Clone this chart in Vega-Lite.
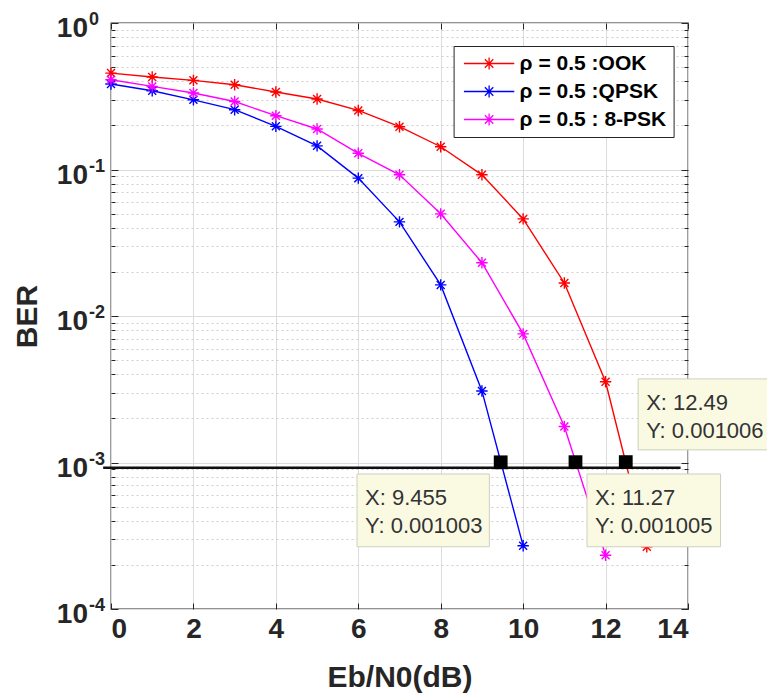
{
  "$schema": "https://vega.github.io/schema/vega-lite/v6.json",
  "width": 577,
  "height": 586,
  "autosize": {"type": "none"},
  "padding": {"left": 111, "top": 23, "right": 79, "bottom": 87},
  "background": "white",
  "config": {
    "view": {"stroke": "#262626", "strokeWidth": 1.3},
    "font": "Liberation Sans",
    "axis": {
      "domain": false,
      "tickColor": "#262626",
      "tickWidth": 1,
      "labelFont": "Liberation Sans",
      "labelFontWeight": "bold",
      "labelColor": "#262626",
      "titleFont": "Liberation Sans",
      "titleFontWeight": "bold",
      "titleColor": "#262626"
    }
  },
  "datasets": {
    "ber": [
      {"s": "ρ = 0.5 :OOK", "x": 0, "ber": 0.455},
      {"s": "ρ = 0.5 :OOK", "x": 1, "ber": 0.428},
      {"s": "ρ = 0.5 :OOK", "x": 2, "ber": 0.406},
      {"s": "ρ = 0.5 :OOK", "x": 3, "ber": 0.379},
      {"s": "ρ = 0.5 :OOK", "x": 4, "ber": 0.338},
      {"s": "ρ = 0.5 :OOK", "x": 5, "ber": 0.303},
      {"s": "ρ = 0.5 :OOK", "x": 6, "ber": 0.253},
      {"s": "ρ = 0.5 :OOK", "x": 7, "ber": 0.196},
      {"s": "ρ = 0.5 :OOK", "x": 8, "ber": 0.143},
      {"s": "ρ = 0.5 :OOK", "x": 9, "ber": 0.092},
      {"s": "ρ = 0.5 :OOK", "x": 10, "ber": 0.046},
      {"s": "ρ = 0.5 :OOK", "x": 11, "ber": 0.0168},
      {"s": "ρ = 0.5 :OOK", "x": 12, "ber": 0.00356},
      {"s": "ρ = 0.5 :OOK", "x": 13, "ber": 0.000266},
      {"s": "ρ = 0.5 :QPSK", "x": 0, "ber": 0.383},
      {"s": "ρ = 0.5 :QPSK", "x": 1, "ber": 0.345},
      {"s": "ρ = 0.5 :QPSK", "x": 2, "ber": 0.299},
      {"s": "ρ = 0.5 :QPSK", "x": 3, "ber": 0.256},
      {"s": "ρ = 0.5 :QPSK", "x": 4, "ber": 0.197},
      {"s": "ρ = 0.5 :QPSK", "x": 5, "ber": 0.145},
      {"s": "ρ = 0.5 :QPSK", "x": 6, "ber": 0.0873},
      {"s": "ρ = 0.5 :QPSK", "x": 7, "ber": 0.0439},
      {"s": "ρ = 0.5 :QPSK", "x": 8, "ber": 0.0163},
      {"s": "ρ = 0.5 :QPSK", "x": 9, "ber": 0.00308},
      {"s": "ρ = 0.5 :QPSK", "x": 10, "ber": 0.00027},
      {"s": "ρ = 0.5 : 8-PSK", "x": 0, "ber": 0.41},
      {"s": "ρ = 0.5 : 8-PSK", "x": 1, "ber": 0.369},
      {"s": "ρ = 0.5 : 8-PSK", "x": 2, "ber": 0.333},
      {"s": "ρ = 0.5 : 8-PSK", "x": 3, "ber": 0.291},
      {"s": "ρ = 0.5 : 8-PSK", "x": 4, "ber": 0.233},
      {"s": "ρ = 0.5 : 8-PSK", "x": 5, "ber": 0.189},
      {"s": "ρ = 0.5 : 8-PSK", "x": 6, "ber": 0.129},
      {"s": "ρ = 0.5 : 8-PSK", "x": 7, "ber": 0.092},
      {"s": "ρ = 0.5 : 8-PSK", "x": 8, "ber": 0.0498},
      {"s": "ρ = 0.5 : 8-PSK", "x": 9, "ber": 0.0231},
      {"s": "ρ = 0.5 : 8-PSK", "x": 10, "ber": 0.00755},
      {"s": "ρ = 0.5 : 8-PSK", "x": 11, "ber": 0.00176},
      {"s": "ρ = 0.5 : 8-PSK", "x": 12, "ber": 0.000233}
    ],
    "threshold": [
      {"x": -0.19, "ber": 0.00092},
      {"x": 13.82, "ber": 0.00092}
    ],
    "tips": [
      {"bx": 9.455, "by": 0.001003, "x1": 5.97, "x2": 9.18, "y1": 0.000835, "y2": 0.000266},
      {"bx": 11.27, "by": 0.001005, "x1": 11.55, "x2": 14.79, "y1": 0.000835, "y2": 0.000266},
      {"bx": 12.49, "by": 0.001006, "x1": 12.79, "x2": 16.3, "y1": 0.00372, "y2": 0.00122}
    ],
    "decades": [
      {"v": 1, "e": "0"},
      {"v": 0.1, "e": "-1"},
      {"v": 0.01, "e": "-2"},
      {"v": 0.001, "e": "-3"},
      {"v": 0.0001, "e": "-4"}
    ]
  },
  "layer": [
    {
      "data": {"name": "ber"},
      "mark": {"type": "line", "strokeWidth": 1.4, "clip": false},
      "encoding": {
        "x": {
          "field": "x", "type": "quantitative",
          "scale": {"type": "linear", "domain": [0, 14], "nice": false, "zero": false},
          "axis": {
            "orient": "bottom",
            "values": [0, 2, 4, 6, 8, 10, 12, 14],
            "grid": true, "gridColor": "#dcdcdc", "gridWidth": 1,
            "tickSize": -6,
            "labelFontSize": 28, "labelPadding": 12,
            "title": "Eb/N0(dB)", "titleFontSize": 30, "titlePadding": 19
          }
        },
        "y": {
          "field": "ber", "type": "quantitative",
          "scale": {"type": "log", "domain": [0.0001, 1], "nice": false},
          "axis": {
            "orient": "left",
            "values": [0.0002, 0.0003, 0.0004, 0.0005, 0.0006, 0.0007, 0.0008, 0.0009,
                       0.002, 0.003, 0.004, 0.005, 0.006, 0.007, 0.008, 0.009,
                       0.02, 0.03, 0.04, 0.05, 0.06, 0.07, 0.08, 0.09,
                       0.2, 0.3, 0.4, 0.5, 0.6, 0.7, 0.8, 0.9],
            "grid": true, "gridColor": "#cfcfcf", "gridDash": [2, 3], "gridWidth": 1,
            "tickSize": -4,
            "labels": false,
            "title": "BER", "titleFontSize": 30, "titlePadding": 68
          }
        },
        "color": {
          "field": "s", "type": "nominal",
          "scale": {
            "domain": ["ρ = 0.5 :OOK", "ρ = 0.5 :QPSK", "ρ = 0.5 : 8-PSK"],
            "range": ["#ff0000", "#0000ff", "#ff00ff"]
          },
          "legend": {
            "title": null,
            "orient": "none",
            "legendX": 342.6,
            "legendY": 23,
            "symbolType": "M-4.2,0L4.2,0M-1,0L1,0M0,-1L0,1M-0.7,-0.7L0.7,0.7M-0.7,0.7L0.7,-0.7",
            "symbolSize": 144,
            "symbolStrokeWidth": 1.3,
            "symbolOffset": 18,
            "labelOffset": 20,
            "labelFont": "Liberation Sans",
            "labelFontWeight": "bold",
            "labelFontSize": 21,
            "labelColor": "#000000",
            "padding": 7,
            "rowPadding": 6,
            "strokeColor": "#262626",
            "fillColor": "white",
            "cornerRadius": 0
          }
        }
      }
    },
    {
      "data": {"name": "ber"},
      "mark": {
        "type": "point",
        "shape": "M-1,0L1,0M0,-1L0,1M-0.7,-0.7L0.7,0.7M-0.7,0.7L0.7,-0.7",
        "filled": false, "size": 130, "strokeWidth": 1.4, "opacity": 1, "clip": false
      },
      "encoding": {
        "x": {
          "field": "x", "type": "quantitative",
          "scale": {"type": "linear", "domain": [0, 14], "nice": false, "zero": false},
          "axis": {
            "orient": "top",
            "values": [0, 2, 4, 6, 8, 10, 12, 14],
            "grid": false, "tickSize": -6, "labels": false, "title": null
          }
        },
        "y": {
          "field": "ber", "type": "quantitative",
          "scale": {"type": "log", "domain": [0.0001, 1], "nice": false},
          "axis": {
            "orient": "left",
            "values": [0.0001, 0.001, 0.01, 0.1, 1],
            "grid": true, "gridColor": "#dcdcdc", "gridWidth": 1,
            "tickSize": -7, "labels": false, "title": null
          }
        },
        "color": {"field": "s", "type": "nominal", "legend": null}
      }
    },
    {
      "data": {"name": "threshold"},
      "mark": {"type": "line", "color": "#111111", "strokeWidth": 2.5, "clip": false},
      "encoding": {
        "x": {
          "field": "x", "type": "quantitative",
          "scale": {"type": "linear", "domain": [0, 14], "nice": false, "zero": false},
          "axis": null
        },
        "y": {
          "field": "ber", "type": "quantitative",
          "scale": {"type": "log", "domain": [0.0001, 1], "nice": false},
          "axis": {
            "orient": "right",
            "values": [0.0002, 0.0003, 0.0004, 0.0005, 0.0006, 0.0007, 0.0008, 0.0009,
                       0.002, 0.003, 0.004, 0.005, 0.006, 0.007, 0.008, 0.009,
                       0.02, 0.03, 0.04, 0.05, 0.06, 0.07, 0.08, 0.09,
                       0.2, 0.3, 0.4, 0.5, 0.6, 0.7, 0.8, 0.9],
            "grid": false, "tickSize": -4, "labels": false, "title": null
          }
        }
      }
    },
    {
      "data": {"name": "tips"},
      "mark": {"type": "point", "shape": "square", "filled": true, "color": "#000000", "size": 190, "opacity": 1, "clip": false},
      "encoding": {
        "x": {
          "field": "bx", "type": "quantitative",
          "scale": {"type": "linear", "domain": [0, 14], "nice": false, "zero": false},
          "axis": null
        },
        "y": {
          "field": "by", "type": "quantitative",
          "scale": {"type": "log", "domain": [0.0001, 1], "nice": false},
          "axis": {
            "orient": "right",
            "values": [0.0001, 0.001, 0.01, 0.1, 1],
            "grid": false, "tickSize": -7, "labels": false, "title": null
          }
        }
      }
    },
    {
      "data": {"name": "tips"},
      "mark": {"type": "rect", "fill": "#fafae3", "stroke": "#cfcfc0", "strokeWidth": 1, "clip": false},
      "encoding": {
        "x": {"field": "x1", "type": "quantitative", "scale": {"type": "linear", "domain": [0, 14], "nice": false, "zero": false}, "axis": null},
        "x2": {"field": "x2"},
        "y": {"field": "y1", "type": "quantitative", "scale": {"type": "log", "domain": [0.0001, 1], "nice": false}, "axis": null},
        "y2": {"field": "y2"}
      }
    },
    {
      "data": {"name": "tips"},
      "transform": [{"calculate": "'X: ' + datum.bx + '|Y: ' + datum.by", "as": "tip"}],
      "mark": {
        "type": "text", "align": "left", "baseline": "top", "dx": 8, "dy": 14,
        "lineBreak": "|", "lineHeight": 28,
        "font": "Liberation Sans", "fontSize": 22, "color": "#333333", "clip": false
      },
      "encoding": {
        "x": {"field": "x1", "type": "quantitative", "scale": {"type": "linear", "domain": [0, 14], "nice": false, "zero": false}, "axis": null},
        "y": {"field": "y1", "type": "quantitative", "scale": {"type": "log", "domain": [0.0001, 1], "nice": false}, "axis": null},
        "text": {"field": "tip", "type": "nominal"}
      }
    },
    {
      "data": {"name": "decades"},
      "mark": {
        "type": "text", "text": "10", "align": "right", "baseline": "alphabetic",
        "dx": -23, "dy": 14, "font": "Liberation Sans", "fontWeight": "bold",
        "fontSize": 28, "color": "#262626", "clip": false
      },
      "encoding": {
        "x": {"datum": 0, "type": "quantitative", "scale": {"type": "linear", "domain": [0, 14], "nice": false, "zero": false}, "axis": null},
        "y": {"field": "v", "type": "quantitative", "scale": {"type": "log", "domain": [0.0001, 1], "nice": false}, "axis": null}
      }
    },
    {
      "data": {"name": "decades"},
      "mark": {
        "type": "text", "align": "left", "baseline": "alphabetic",
        "dx": -22, "dy": 2, "font": "Liberation Sans", "fontWeight": "bold",
        "fontSize": 18, "color": "#262626", "clip": false
      },
      "encoding": {
        "x": {"datum": 0, "type": "quantitative", "scale": {"type": "linear", "domain": [0, 14], "nice": false, "zero": false}, "axis": null},
        "y": {"field": "v", "type": "quantitative", "scale": {"type": "log", "domain": [0.0001, 1], "nice": false}, "axis": null},
        "text": {"field": "e", "type": "nominal"}
      }
    }
  ],
  "resolve": {"axis": {"x": "independent", "y": "independent"}}
}
